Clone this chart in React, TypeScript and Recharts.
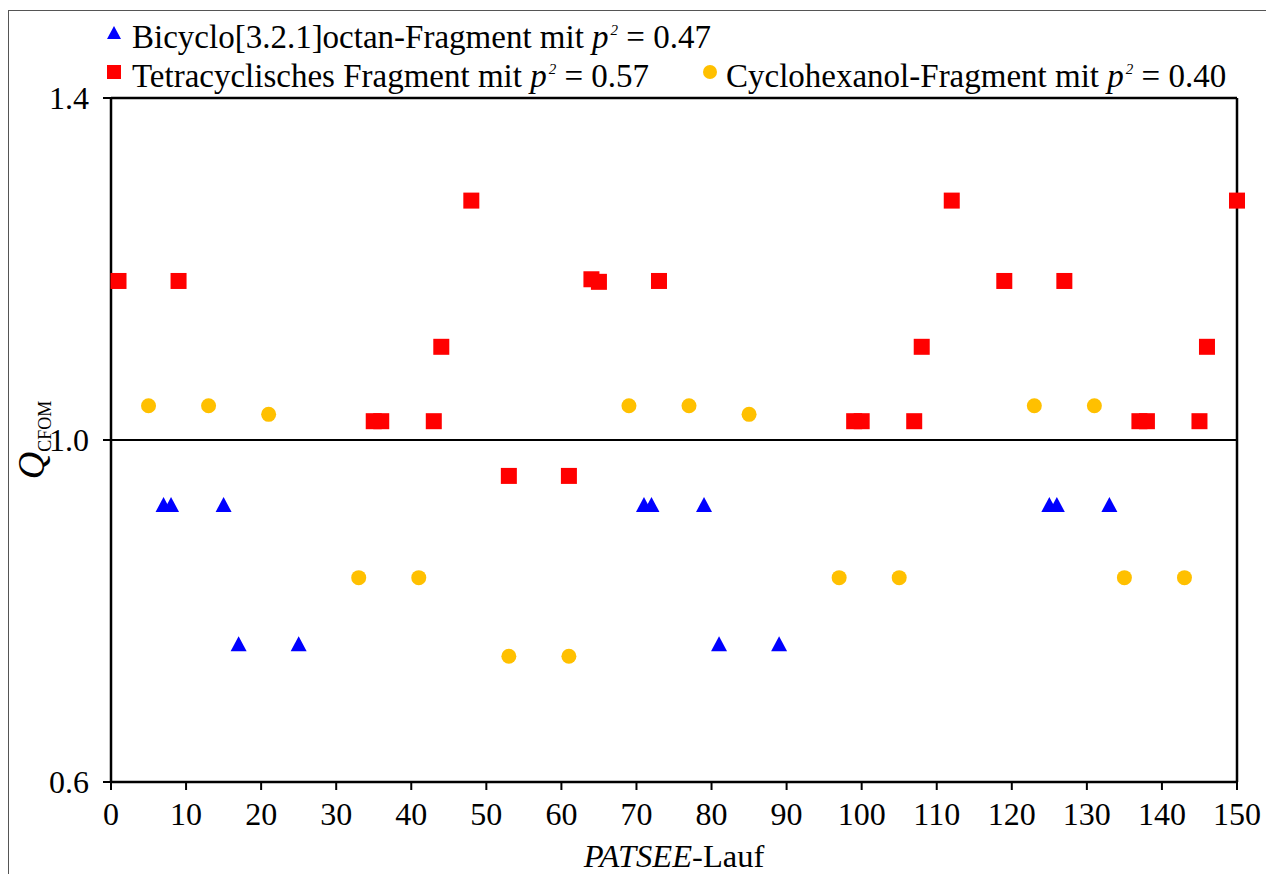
import React from "react";
import { ScatterChart, Scatter, XAxis, YAxis, ReferenceLine } from "recharts";

const xTicks = [0, 10, 20, 30, 40, 50, 60, 70, 80, 90, 100, 110, 120, 130, 140, 150];
const yTicks = [0.6, 1.0, 1.4];

const bicycloRuns = [7, 8, 15, 17, 25, 71, 72, 79, 81, 89, 125, 126, 133];
const bicycloQ = [0.924, 0.924, 0.924, 0.761, 0.761, 0.924, 0.924, 0.924, 0.761, 0.761, 0.924, 0.924, 0.924];

const tetraRuns = [1, 9, 35, 36, 43, 44, 48, 53, 61, 64, 65, 73, 99, 100, 107, 108, 112, 119, 127, 137, 138, 145, 146, 150];
const tetraQ = [1.186, 1.186, 1.022, 1.022, 1.022, 1.109, 1.28, 0.958, 0.958, 1.188, 1.185, 1.186, 1.022, 1.022, 1.022, 1.109, 1.28, 1.186, 1.186, 1.022, 1.022, 1.022, 1.109, 1.28];

const cycloRuns = [5, 13, 21, 33, 41, 53, 61, 69, 77, 85, 97, 105, 123, 131, 135, 143];
const cycloQ = [1.04, 1.04, 1.03, 0.839, 0.839, 0.747, 0.747, 1.04, 1.04, 1.03, 0.839, 0.839, 1.04, 1.04, 0.839, 0.839];

const BLUE = "#0000ff";
const RED = "#ff0000";
const YELLOW = "#ffc000";
const FONT = "Liberation Serif";

const toPoints = (xs: number[], ys: number[]) => xs.map((x, i) => ({ x, y: ys[i] }));

const Triangle = (p: any) => (
  <polygon points={`${p.cx},${p.cy - 8} ${p.cx - 8},${p.cy + 7} ${p.cx + 8},${p.cy + 7}`} fill={BLUE} />
);
const Square = (p: any) => <rect x={p.cx - 8} y={p.cy - 8} width={16} height={16} fill={RED} />;
const Dot = (p: any) => <circle cx={p.cx} cy={p.cy} r={7.5} fill={YELLOW} />;

function LegendBox() {
  const text: React.CSSProperties = {
    position: "absolute",
    display: "flex",
    alignItems: "center",
    fontFamily: FONT,
    fontSize: 33,
    color: "#000",
    whiteSpace: "nowrap",
    lineHeight: "40px",
    height: 40,
  };
  const pp = (
    <>
      <i>p</i>
      <sup style={{ fontSize: 15, fontStyle: "italic", verticalAlign: 13, marginLeft: 2 }}>2</sup>
    </>
  );
  return (
    <div style={{ position: "absolute", left: 104, top: 0, width: 1160, height: 100 }}>
      <div style={{ ...text, left: 0, top: 13 }}>
        <svg width={20} height={20}><polygon points="10,3 3,16 17,16" fill={BLUE} /></svg>
        <span style={{ marginLeft: 8 }}>Bicyclo[3.2.1]octan-Fragment mit {pp} = 0.47</span>
      </div>
      <div style={{ ...text, left: 0, top: 52 }}>
        <svg width={20} height={20}><rect x={3} y={3} width={14} height={14} fill={RED} /></svg>
        <span style={{ marginLeft: 8 }}>Tetracyclisches Fragment mit {pp} = 0.57</span>
      </div>
      <div style={{ ...text, left: 596, top: 52 }}>
        <svg width={20} height={20}><circle cx={10} cy={10} r={7} fill={YELLOW} /></svg>
        <span style={{ marginLeft: 6 }}>Cyclohexanol-Fragment mit {pp} = 0.40</span>
      </div>
    </div>
  );
}

const YLabel = () => (
  <text transform="translate(44, 440) rotate(-90)" textAnchor="middle" fontFamily={FONT} fill="#000">
    <tspan fontSize={38} fontStyle="italic">Q</tspan>
    <tspan fontSize={18} dy={7}>CFOM</tspan>
  </text>
);

export default function App() {
  return (
    <div style={{ position: "absolute", left: 0, top: 0, width: 1266, height: 874, background: "#fff", fontFamily: FONT }}>
      <div
        style={{
          position: "absolute",
          left: 8,
          top: 10,
          width: 1258,
          height: 864,
          borderTop: "1.5px solid #555",
          borderLeft: "1.5px solid #555",
        }}
      />
      <div style={{ position: "absolute", left: 0, top: 0 }}>
        <ScatterChart width={1266} height={874} margin={{ top: 98, right: 29, bottom: 42, left: 0 }}>
          <XAxis
            type="number"
            dataKey="x"
            domain={[0, 150]}
            ticks={xTicks}
            interval={0}
            height={50}
            tickSize={8}
            tickMargin={12}
            axisLine={{ stroke: "#000", strokeWidth: 2.5 }}
            tickLine={{ stroke: "#000", strokeWidth: 2 }}
            tick={{ fill: "#000", fontSize: 32, fontFamily: FONT }}
          />
          <YAxis
            type="number"
            dataKey="y"
            domain={[0.6, 1.4]}
            ticks={yTicks}
            interval={0}
            width={111}
            tickSize={8}
            tickMargin={14}
            tickFormatter={(v) => Number(v).toFixed(1)}
            axisLine={{ stroke: "#000", strokeWidth: 2.5 }}
            tickLine={{ stroke: "#000", strokeWidth: 2 }}
            tick={{ fill: "#000", fontSize: 32, fontFamily: FONT }}
            label={<YLabel />}
          />
          <ReferenceLine y={1.4} stroke="#000" strokeWidth={2.5} />
          <ReferenceLine x={150} stroke="#000" strokeWidth={2.5} />
          <ReferenceLine y={1.0} stroke="#000" strokeWidth={2} />
          <Scatter name="Bicyclo" data={toPoints(bicycloRuns, bicycloQ)} shape={Triangle} isAnimationActive={false} />
          <Scatter name="Tetracyclisch" data={toPoints(tetraRuns, tetraQ)} shape={Square} isAnimationActive={false} />
          <Scatter name="Cyclohexanol" data={toPoints(cycloRuns, cycloQ)} shape={Dot} isAnimationActive={false} />
          <text x={674} y={867} textAnchor="middle" fontFamily={FONT} fontSize={32.5} fill="#000">
            <tspan fontStyle="italic">PATSEE</tspan>
            <tspan>-Lauf</tspan>
          </text>
        </ScatterChart>
      </div>
      <LegendBox />
    </div>
  );
}
